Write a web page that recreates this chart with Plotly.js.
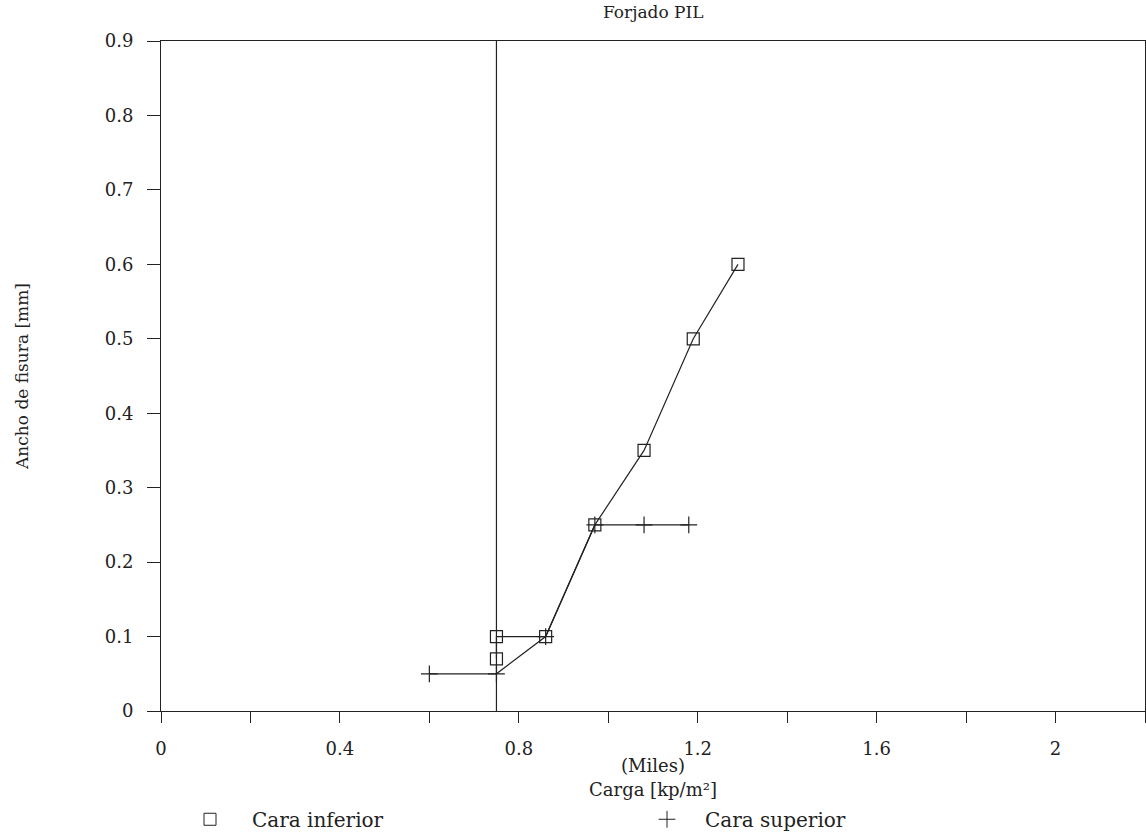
<!DOCTYPE html>
<html>
<head>
<meta charset="utf-8">
<script src="https://cdn.plot.ly/plotly-3.0.1.min.js"></script>
<style>
  html, body { margin: 0; padding: 0; background: #fff; }
  #chart { width: 1146px; height: 836px; }
</style>
</head>
<body>
<div id="chart"></div>
<script>
// Data (load in thousands of kp/m², crack width in mm)
const inferiorX = [0.75, 0.75, 0.86, 0.97, 1.08, 1.19, 1.29];
const inferiorY = [0.07, 0.10, 0.10, 0.25, 0.35, 0.50, 0.60];
const superiorX = [0.60, 0.75, 0.86, 0.97, 1.08, 1.18];
const superiorY = [0.05, 0.05, 0.10, 0.25, 0.25, 0.25];
const refLineX = 0.75;

const xTickVals = [0, 0.2, 0.4, 0.6, 0.8, 1.0, 1.2, 1.4, 1.6, 1.8, 2.0, 2.2];
const xTickText = ["0", "", "0.4", "", "0.8", "", "1.2", "", "1.6", "", "2", ""];
const yTickVals = [0, 0.1, 0.2, 0.3, 0.4, 0.5, 0.6, 0.7, 0.8, 0.9];
const yTickText = ["0", "0.1", "0.2", "0.3", "0.4", "0.5", "0.6", "0.7", "0.8", "0.9"];

const seriesNames = ["Cara inferior", "Cara superior"];

const FONT = "DejaVu Serif, Liberation Serif, serif";
const INK = "#222";

const traces = [
  {
    x: inferiorX, y: inferiorY, mode: "lines+markers", showlegend: false,
    line: {color: INK, width: 1.2},
    marker: {symbol: "square-open", size: 12, color: INK, line: {width: 1.2, color: INK}}
  },
  {
    x: superiorX, y: superiorY, mode: "lines+markers", showlegend: false,
    line: {color: INK, width: 1.2},
    marker: {symbol: "cross-thin-open", size: 12, color: INK, line: {width: 1.2, color: INK}}
  },
  // legend entries (markers only, as in the reference)
  {
    x: [null], y: [null], mode: "markers", name: seriesNames[0], legend: "legend",
    marker: {symbol: "square-open", size: 12, color: INK, line: {width: 1, color: INK}}
  },
  {
    x: [null], y: [null], mode: "markers", name: seriesNames[1], legend: "legend2",
    marker: {symbol: "cross-thin-open", size: 12, color: INK, line: {width: 1, color: INK}}
  }
];

const legendCommon = {
  orientation: "h", xref: "container", yref: "container",
  y: 0.02, yanchor: "middle", xanchor: "left",
  font: {family: FONT, size: 20, color: INK},
  bgcolor: "rgba(0,0,0,0)", borderwidth: 0
};

const layout = {
  width: 1146, height: 836,
  paper_bgcolor: "#fff", plot_bgcolor: "#fff",
  margin: {l: 161, r: 1, t: 41, b: 125},
  font: {family: FONT, color: INK, size: 18},
  title: {text: "Forjado PIL", x: 0.57, xanchor: "center", y: 0.993, yanchor: "top",
          font: {family: FONT, size: 17, color: INK}},
  xaxis: {
    range: [0, 2.2], tickmode: "array", tickvals: xTickVals, ticktext: xTickText,
    ticks: "outside", ticklen: 11, tickwidth: 1, tickcolor: INK,
    showline: true, linecolor: INK, linewidth: 1, mirror: true,
    showgrid: false, zeroline: false,
    tickfont: {family: FONT, size: 18, color: INK},
    ticklabelstandoff: 10,
    title: {text: "(Miles)<br>Carga [kp/m²]", font: {family: FONT, size: 18, color: INK}, standoff: 14},
    automargin: false
  },
  yaxis: {
    range: [0, 0.9], tickmode: "array", tickvals: yTickVals, ticktext: yTickText,
    ticks: "outside", ticklen: 13, tickwidth: 1, tickcolor: INK,
    showline: true, linecolor: INK, linewidth: 1, mirror: true,
    showgrid: false, zeroline: false,
    tickfont: {family: FONT, size: 18, color: INK},
    ticklabelstandoff: 10,
    title: {text: "Ancho de fisura [mm]", font: {family: FONT, size: 17, color: INK}, standoff: 71},
    automargin: false
  },
  shapes: [
    {type: "line", xref: "x", yref: "paper", x0: refLineX, x1: refLineX, y0: 0, y1: 1,
     line: {color: INK, width: 1.2}}
  ],
  legend: Object.assign({}, legendCommon, {x: 168 / 1146, itemwidth: 74}),
  legend2: Object.assign({}, legendCommon, {x: 629 / 1146, itemwidth: 66}),
  showlegend: true
};

Plotly.newPlot("chart", traces, layout, {displayModeBar: false, staticPlot: true});
</script>
</body>
</html>
